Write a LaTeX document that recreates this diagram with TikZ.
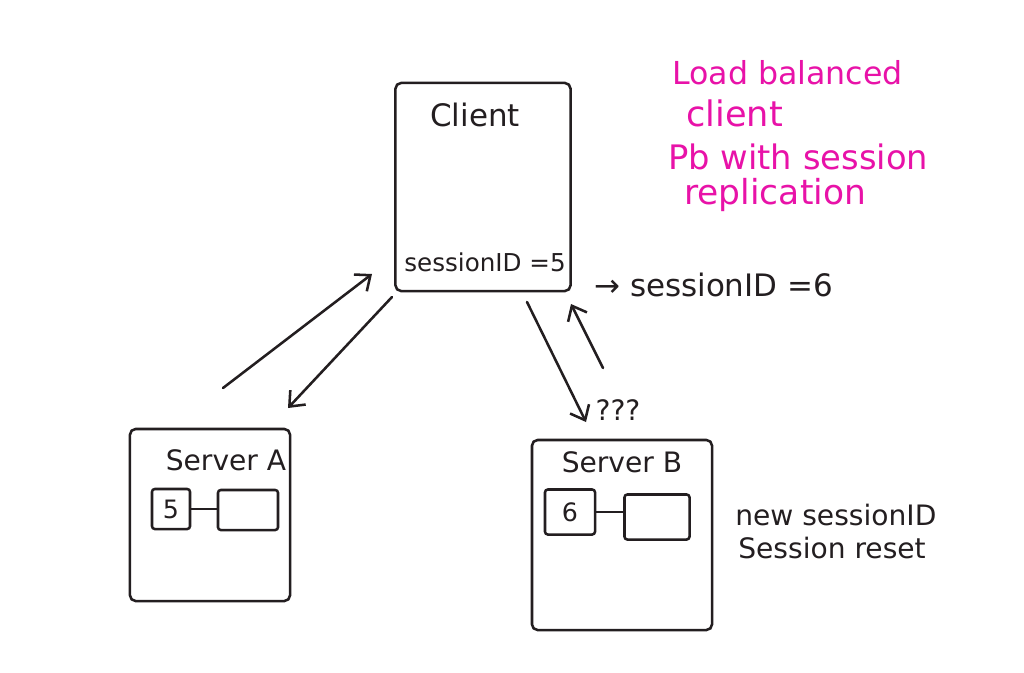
\documentclass[tikz,border=0pt]{standalone}
\usepackage{fontspec}
\setmainfont{DejaVu Sans}
\usetikzlibrary{arrows.meta}
\definecolor{ink}{RGB}{35,30,32}
\definecolor{pinkink}{RGB}{232,18,168}
\tikzset{
  box/.style={draw=ink, line width=1.8pt, rounded corners=4pt, inner sep=0pt},
  lbl/.style={text=ink, inner sep=0pt, font=\fontsize{20}{24}\selectfont},
  note/.style={text=pinkink, inner sep=0pt, anchor=west, font=\fontsize{22}{26}\selectfont},
  conn/.style={draw=ink, line width=1.8pt, line cap=round, -{Straight Barb[length=9pt,width=15pt]}},
  link/.style={draw=ink, line width=1.8pt}
}
\begin{document}
\begin{tikzpicture}[x=0.025cm,y=-0.025cm]
\useasboundingbox (0,0) rectangle (1024,672);
\fill[white] (0,0) rectangle (1024,672);

% client
\node[box, minimum width=4.375cm, minimum height=5.2cm] (client) at (483,187) {};
\node[lbl, font=\fontsize{22}{26}\selectfont] (clientlbl) at (475,115) {Client};
\node[lbl, anchor=east, font=\fontsize{17.5}{22}\selectfont] (sid5) at (566,262) {sessionID =5};
\node[lbl, anchor=west, font=\fontsize{22}{26}\selectfont] (sid6) at (594,285) {→ sessionID =6};

% server A
\node[box, minimum width=4cm, minimum height=4.3cm] (srvA) at (210,515) {};
\node[lbl] (srvAlbl) at (226,460) {Server A};
\node[box, rounded corners=2pt, minimum width=0.95cm, minimum height=1.0cm, font=\fontsize{18}{22}\selectfont, text=ink] (a5) at (171,509) {5};
\node[box, rounded corners=2pt, minimum width=1.5cm, minimum height=1.0cm] (adata) at (248,510) {};
\draw[link] (a5.east) -- (a5.east -| adata.west);

% server B
\node[box, minimum width=4.5cm, minimum height=4.75cm] (srvB) at (622,535) {};
\node[lbl] (srvBlbl) at (622,462) {Server B};
\node[box, rounded corners=2pt, minimum width=1.25cm, minimum height=1.125cm, font=\fontsize{18}{22}\selectfont, text=ink] (b6) at (570,512) {6};
\node[box, rounded corners=2pt, minimum width=1.625cm, minimum height=1.125cm] (bdata) at (657,517) {};
\draw[link] (b6.east) -- (b6.east -| bdata.west);

\node[lbl] (qqq) at (618,410) {???};
\node[lbl, anchor=west] (newsid) at (735,515) {new sessionID};
\node[lbl, anchor=west] (reset) at (738,548) {Session reset};

% notes
\node[note, font=\fontsize{22.5}{26}\selectfont] (n1) at (672,73) {Load balanced};
\node[note, font=\fontsize{25}{28}\selectfont] (n2) at (686,113) {client};
\node[note, font=\fontsize{24}{28}\selectfont] (n3) at (668,157) {Pb with session};
\node[note, font=\fontsize{24.5}{28}\selectfont] (n4) at (684,195) {replication};

% connectors
\coordinate (a1s) at (223,388);
\coordinate (a1e) at (372,274);
\coordinate (a2s) at (392,297);
\coordinate (a2e) at (288,408);
\coordinate (a3s) at (527,302);
\coordinate (a3e) at (586,422);
\coordinate (a4s) at (603,368);
\coordinate (a4e) at (571,304);
\draw[conn] (a1s) -- (a1e);
\draw[conn] (a2s) -- (a2e);
\draw[conn] (a3s) -- (a3e);
\draw[conn] (a4s) -- (a4e);
\end{tikzpicture}
\end{document}
